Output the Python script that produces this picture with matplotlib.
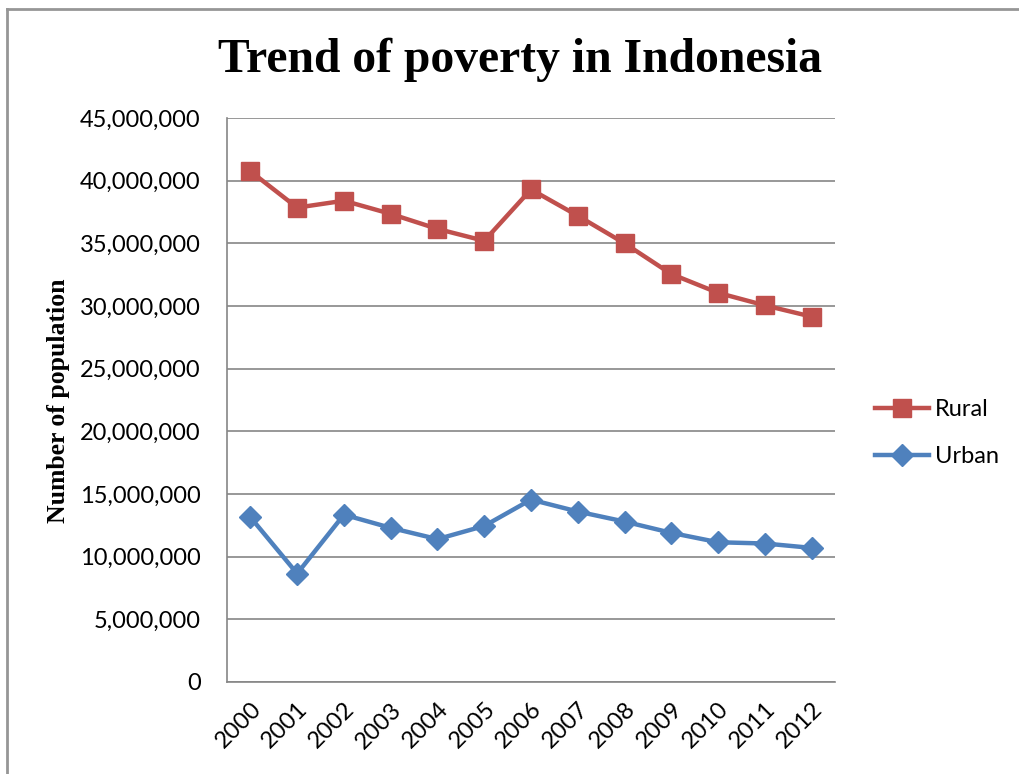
import matplotlib
matplotlib.use("Agg")
import matplotlib.pyplot as plt
from matplotlib.lines import Line2D
from matplotlib.ticker import FuncFormatter

# Data
years = ['2000', '2001', '2002', '2003', '2004', '2005', '2006',
         '2007', '2008', '2009', '2010', '2011', '2012']
rural = [40.75, 37.85, 38.4, 37.35, 36.15, 35.2, 39.3,
         37.2, 35.0, 32.55, 31.05, 30.05, 29.15]
urban = [13.15, 8.65, 13.35, 12.3, 11.4, 12.45, 14.55,
         13.6, 12.8, 11.9, 11.15, 11.05, 10.7]
rural = [v * 1e6 for v in rural]
urban = [v * 1e6 for v in urban]

W, H = 1019, 774
fig = plt.figure(figsize=(W / 100, H / 100), dpi=100)
ax = fig.add_axes([227 / W, 1 - 682 / H, (835 - 227) / W, (682 - 118) / H])

x = range(len(years))
ax.plot(x, rural, color='#C0504D', lw=3.2, marker='s', markersize=13,
        label='Rural', zorder=3)
ax.plot(x, urban, color='#4F81BD', lw=3.2, marker='D', markersize=11,
        label='Urban', zorder=3)

ax.set_xlim(-0.5, len(years) - 0.5)
ax.set_ylim(0, 45e6)
ax.set_yticks(range(0, 45000001, 5000000))
ax.yaxis.set_major_formatter(FuncFormatter(lambda v, p: f'{int(v):,}'))
ax.set_xticks(list(x))
ax.set_xticklabels(years, rotation=45, ha='right', rotation_mode='anchor')
ax.tick_params(axis='both', length=0, labelsize=17, colors='black')
ax.tick_params(axis='y', pad=19)
ax.tick_params(axis='x', pad=12)
for lab in ax.get_xticklabels() + ax.get_yticklabels():
    lab.set_family('Lato')

ax.grid(axis='y', color='#868686', lw=1.2)
ax.set_axisbelow(True)
for s in ['top', 'right']:
    ax.spines[s].set_visible(False)
for s in ['left', 'bottom']:
    ax.spines[s].set_color('#868686')
    ax.spines[s].set_linewidth(1.2)

fig.text(58 / W, 1 - 401 / H, 'Number of population', family='Liberation Serif',
         fontweight='bold', fontsize=18.5, rotation=90, ha='center', va='center')
fig.text(520 / W, 1 - 60 / H, 'Trend of poverty in Indonesia',
         family='Liberation Serif', fontweight='bold', fontsize=34.3,
         ha='center', va='center')

ax.legend(loc='center left', bbox_to_anchor=(875 / W, 1 - 433 / H),
          bbox_transform=fig.transFigure, frameon=False, borderpad=0,
          borderaxespad=0, prop={'family': 'Lato', 'size': 17},
          handlelength=2.3, handletextpad=0.25, labelspacing=1.1)

# outer chart frame
fig.add_artist(Line2D([7 / W, 7 / W], [0, 1 - 9 / H], color='#969696', lw=2))
fig.add_artist(Line2D([7 / W, 1], [1 - 9 / H, 1 - 9 / H], color='#969696', lw=2))

fig.savefig('out.png', dpi=100)
